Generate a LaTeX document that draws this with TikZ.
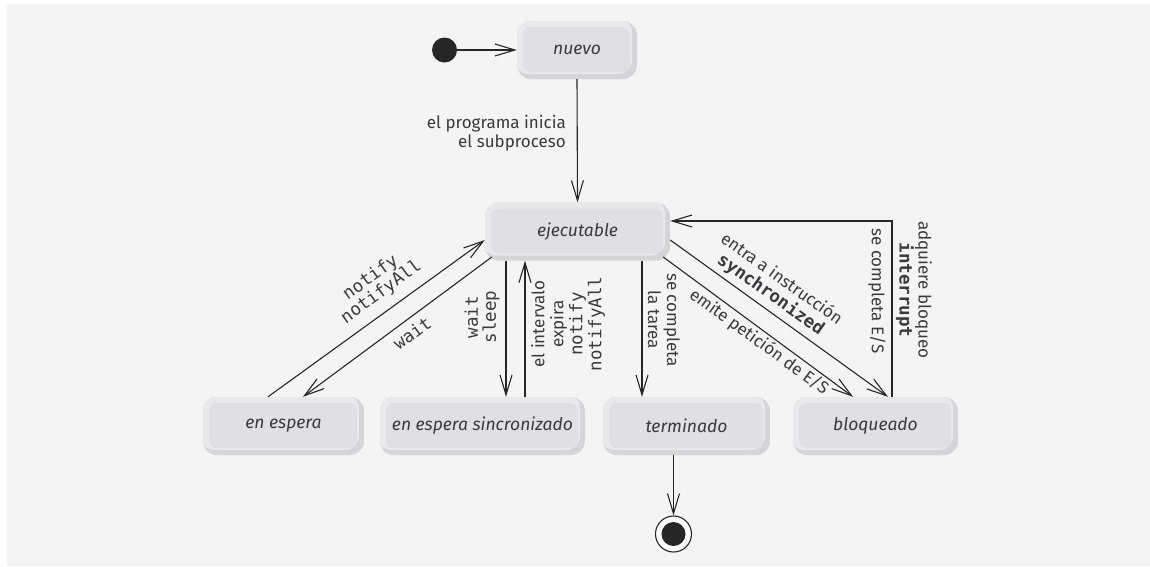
\documentclass[tikz,border=0pt]{standalone}
\usepackage{fontspec}
\setmainfont{Fira Sans}
\setmonofont{DejaVu Sans Mono}
\usetikzlibrary{arrows.meta}
\definecolor{bg}{HTML}{F4F4F4}
\definecolor{boxlight}{HTML}{E9E9EB}
\definecolor{boxdark}{HTML}{D5D5D7}
\definecolor{boxface}{HTML}{E0E0E2}
\definecolor{txt}{HTML}{3A3A3C}
\definecolor{ln}{HTML}{262626}
\tikzset{
  state/.style={rounded corners=14pt, fill=boxlight, minimum height=58pt, inner sep=0pt,
    font=\fontsize{17.5}{20}\selectfont\itshape, text=txt,
    path picture={
      \fill[boxdark] (path picture bounding box.south west) rectangle (path picture bounding box.north east);
      \fill[boxlight, rounded corners=14pt] ([xshift=-3pt,yshift=3pt]path picture bounding box.north west) rectangle ([xshift=-5pt,yshift=5pt]path picture bounding box.south east);
      \fill[boxface, rounded corners=8pt] ([xshift=6pt,yshift=-6pt]path picture bounding box.north west) rectangle ([xshift=-7pt,yshift=7pt]path picture bounding box.south east);
    }},
  arr/.style={draw=ln, line width=1.1pt, -{Straight Barb[length=20pt,width=12pt,line width=1.1pt]}},
  lbl/.style={font=\fontsize{17}{19}\selectfont, text=txt, inner sep=0pt, align=center},
  code/.style={font=\fontsize{17.5}{18}\selectfont\ttfamily, text=txt, inner sep=0pt, align=center},
}
\newcommand{\cd}[1]{{\fontsize{17.5}{18}\selectfont\ttfamily #1}}
\newcommand{\cdb}[1]{{\fontsize{17.5}{18}\selectfont\ttfamily\bfseries #1}}
\begin{document}
\begin{tikzpicture}[x=1pt, y=-1pt]
\useasboundingbox (0,0) rectangle (1150,566);
\fill[bg] (7,4) rectangle (1150,566);

% states
\node[state, minimum width=120pt] (nuevo) at (577,50) {nuevo};
\node[state, minimum width=185pt] (ejec) at (577.5,231.5) {ejecutable};
\node[state, minimum width=161pt] (espera) at (283.5,426) {en espera};
\node[state, minimum width=205pt] (sync) at (482.5,426) {en espera sincronizado};
\node[state, minimum width=167pt] (term) at (686.5,426) {terminado};
\node[state, minimum width=165pt] (bloq) at (875.5,426) {bloqueado};

% initial / final
\node[circle, fill=ln, minimum size=25pt, inner sep=0pt] (init) at (444.5,50) {};
\node[circle, draw=ln, line width=1.1pt, fill=white, minimum size=36pt, inner sep=0pt] (final) at (673.5,534) {};
\node[circle, fill=ln, minimum size=24pt, inner sep=0pt] (finalin) at (final) {};

% helper x positions
\coordinate (xa) at (506,0);
\coordinate (xb) at (525,0);
\coordinate (xc) at (642,0);

% connectors
\draw[arr] (init) -- (nuevo);
\draw[arr] (nuevo.south) -- (ejec.north);
\draw[arr] ([shift={(-15.5,0)}]espera.north) -- ([shift={(0,8.5)}]ejec.west);
\draw[arr] ([shift={(7,25.5)}]ejec.west) -- ([shift={(19.5,0)}]espera.north);
\draw[arr] (ejec.south -| xa) -- (sync.north -| xa);
\draw[arr] (sync.north -| xb) -- (ejec.south -| xb);
\draw[arr] (ejec.south -| xc) -- (term.north -| xc);
\draw[arr] ([shift={(0,8.5)}]ejec.east) -- ([shift={(12.5,0)}]bloq.north);
\draw[arr] ([shift={(-7,25.5)}]ejec.east) -- ([shift={(-22.5,0)}]bloq.north);
\draw[arr] ([shift={(16.5,0)}]bloq.north) |- ([shift={(0,-10.5)}]ejec.east);
\draw[arr] (term.south -| final) -- (final.north);

% labels
\node[lbl, anchor=east, align=right] (l1) at (566,133) {el programa inicia\\el subproceso};
\node[code, rotate=36] (l2) at (376,285) {notify\\notifyAll};
\node[code, rotate=36] (l3) at (412,333) {wait};
\node[code, rotate=90] (l4) at (482,317) {wait\\sleep};
\node[lbl, rotate=90] (l5) at (568,324) {el intervalo\\expira\\\cd{notify}\\\cd{notifyAll}};
\node[lbl, rotate=-90] (l6) at (664,320) {se completa\\la tarea};
\node[lbl, rotate=-35.4] (l7) at (776,287) {entra a instrucción\\\cdb{synchronized}};
\node[lbl, rotate=-36] (l8) at (759,342) {emite petición de E/S};
\node[lbl, rotate=-90] (l9) at (877,291) {se completa E/S};
\node[lbl, rotate=-90] (l10) at (914,290) {adquiere bloqueo\\\cdb{interrupt}};
\end{tikzpicture}
\end{document}
